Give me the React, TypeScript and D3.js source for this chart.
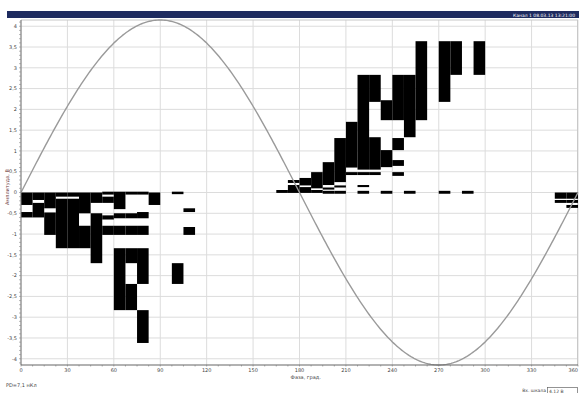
import React from "react";
import * as d3 from "d3";

const W = 579;
const H = 393;

// phase-resolved PD pattern, bins 7.5 deg wide
const BIN = 7.5;
const SINE_AMPLITUDE = 4.15;

const phaseTicks = [0, 30, 60, 90, 120, 150, 180, 210, 240, 270, 300, 330, 360];
const ampTicks = [-4, -3.5, -3, -2.5, -2, -1.5, -1, -0.5, 0, 0.5, 1, 1.5, 2, 2.5, 3, 3.5, 4];

// [phase bin start, amplitude from, amplitude to]
const negativeCells = [
  [0, 0, -0.3], [0, -0.47, -0.6],
  [7.5, 0, -0.18], [7.5, -0.25, -0.6],
  [15, 0, -0.38], [15, -0.48, -1.02],
  [22.5, 0, -0.1], [22.5, -0.15, -1.34],
  [30, 0, -0.1], [30, -0.15, -1.34],
  [37.5, 0, -0.5], [37.5, -0.8, -1.34],
  [45, 0, -0.25], [45, -0.5, -1.7],
  [52.5, 0.02, -0.05], [52.5, -0.1, -0.25], [52.5, -0.55, -0.65], [52.5, -0.8, -1.02],
  [60, 0.02, -0.4], [60, -0.5, -0.62], [60, -0.8, -1.02], [60, -1.34, -2.83],
  [67.5, 0.02, -0.05], [67.5, -0.5, -0.62], [67.5, -0.8, -1.02], [67.5, -1.34, -1.7], [67.5, -2.2, -2.83],
  [75, 0.02, -0.05], [75, -0.47, -0.62], [75, -0.8, -1.02], [75, -1.34, -2.2], [75, -2.83, -3.62],
  [82.5, 0, -0.3],
  [97.5, 0.02, -0.04], [97.5, -1.7, -2.2],
  [105, -0.38, -0.47], [105, -0.83, -1.02],
  [345, 0, -0.15], [345, -0.18, -0.25],
  [352.5, 0, -0.15], [352.5, -0.18, -0.25], [352.5, -0.3, -0.37],
];

const positiveCells = [
  [165, 0.06, -0.01],
  [172.5, 0.3, 0.23], [172.5, 0.18, -0.01],
  [180, 0.35, 0.17], [180, 0.13, -0.01],
  [187.5, 0.49, 0.1], [187.5, 0.06, -0.01],
  [195, 0.73, 0.18], [195, 0.12, 0.07], [195, 0.04, -0.03],
  [202.5, 1.31, 0.25], [202.5, 0.17, 0.12], [202.5, 0.04, -0.03],
  [210, 1.7, 0.6], [210, 0.49, 0.42],
  [217.5, 2.83, 0.55], [217.5, 0.49, 0.42], [217.5, 0.18, 0.13], [217.5, 0.04, -0.03],
  [225, 2.83, 2.18], [225, 1.33, 0.55], [225, 0.49, 0.42],
  [232.5, 2.22, 1.74], [232.5, 1.02, 0.61], [232.5, 0.04, -0.03],
  [240, 2.83, 1.74], [240, 1.31, 1.02], [240, 0.78, 0.64], [240, 0.49, 0.4],
  [247.5, 2.83, 1.33], [247.5, 0.04, -0.03],
  [255, 3.64, 1.74],
  [270, 3.64, 2.18], [270, 0.04, -0.03],
  [277.5, 3.64, 2.83],
  [285, 0.04, -0.03],
  [292.5, 3.64, 2.83],
];

const left = 21, right = 578, top = 20, bottom = 365;
const font = "'DejaVu Sans', sans-serif";
const fmt = (v: number) => String(v).replace(".", ",");

export default function App() {
  const x = d3.scaleLinear().domain([0, 360]).range([left, right]);
  const y = d3.scaleLinear().domain([-SINE_AMPLITUDE, SINE_AMPLITUDE]).range([bottom, top]);

  const sinePhases = d3.range(0, 361, 1);
  const sine = d3
    .line<number>()
    .x((p) => x(p))
    .y((p) => y(SINE_AMPLITUDE * Math.sin((p * Math.PI) / 180)))(sinePhases);

  const minorAmp = d3.range(-41, 42).map((i) => i / 10);
  const cells = [...negativeCells, ...positiveCells];

  return (
    <svg width={W} height={H} style={{ position: "absolute", left: 0, top: 0, background: "#fff" }}>
      {/* header bar */}
      <rect x={7} y={11} width={572} height={7} fill="#1e2b5f" />
      <text x={575} y={16.5} textAnchor="end" fontSize={4.5} fill="#fff" fontFamily={font}>
        Канал 1 08.03.13 13:21:00
      </text>

      {/* grid */}
      {ampTicks.map((a) => (
        <line key={"gy" + a} x1={left} x2={right} y1={y(a)} y2={y(a)} stroke="#dcdcdc" strokeWidth={1} />
      ))}
      {phaseTicks.map((p) => (
        <line key={"gx" + p} x1={x(p)} x2={x(p)} y1={top} y2={bottom} stroke="#dcdcdc" strokeWidth={1} />
      ))}
      <line x1={left} x2={right} y1={top} y2={top} stroke="#c8c8c8" />
      <line x1={right - 0.5} x2={right - 0.5} y1={top} y2={bottom} stroke="#c8c8c8" />

      {/* PD cells */}
      {cells.map(([p, a0, a1], i) => (
        <rect
          key={i}
          x={x(p)}
          width={x(p + BIN) - x(p)}
          y={y(Math.max(a0, a1))}
          height={Math.abs(y(a1) - y(a0))}
          fill="#000"
        />
      ))}

      {/* reference sine */}
      <path d={sine || ""} fill="none" stroke="#9a9a9a" strokeWidth={1.4} />

      {/* y axis */}
      <line x1={left} x2={left} y1={top} y2={bottom} stroke="#777" strokeWidth={1} />
      {minorAmp.map((a) => (
        <line key={"ty" + a} x1={left - 2} x2={left} y1={y(a)} y2={y(a)} stroke="#888" strokeWidth={0.6} />
      ))}
      {ampTicks.map((a) => (
        <text key={"ly" + a} x={17} y={y(a)} dy="0.35em" textAnchor="end" fontSize={5} fill="#444" fontFamily={font}>
          {fmt(a)}
        </text>
      ))}
      <text
        transform={`translate(9,${y(0.13)}) rotate(-90)`}
        textAnchor="middle"
        fontSize={5}
        fill="#6a3535"
        fontFamily={font}
      >
        Амплитуда, В
      </text>

      {/* x axis */}
      <line x1={left} x2={right} y1={bottom} y2={bottom} stroke="#666" strokeWidth={1.2} />
      {d3.range(0, 361, BIN).map((p) => (
        <line key={"tx" + p} x1={x(p)} x2={x(p)} y1={bottom} y2={bottom + 1.5} stroke="#777" strokeWidth={0.6} />
      ))}
      {phaseTicks.map((p) => (
        <text
          key={"lx" + p}
          x={p === 360 ? right : x(p)}
          y={372}
          textAnchor={p === 360 ? "end" : "middle"}
          fontSize={5}
          fill="#444"
          fontFamily={font}
        >
          {p}
        </text>
      ))}
      <text x={x(184)} y={379} textAnchor="middle" fontSize={5} fill="#444" fontFamily={font}>
        Фаза, град.
      </text>

      {/* footer */}
      <text x={6} y={387} fontSize={5} fill="#444" fontFamily={font}>
        PD=7,1 нКл
      </text>
      <text x={546} y={392} textAnchor="end" fontSize={4.5} fill="#444" fontFamily={font}>
        Вх. шкала
      </text>
      <rect x={547.5} y={387.5} width={30} height={8} fill="#fff" stroke="#666" strokeWidth={0.7} />
      <text x={549} y={392.5} fontSize={4.5} fill="#444" fontFamily={font}>
        4,12 В
      </text>
    </svg>
  );
}
